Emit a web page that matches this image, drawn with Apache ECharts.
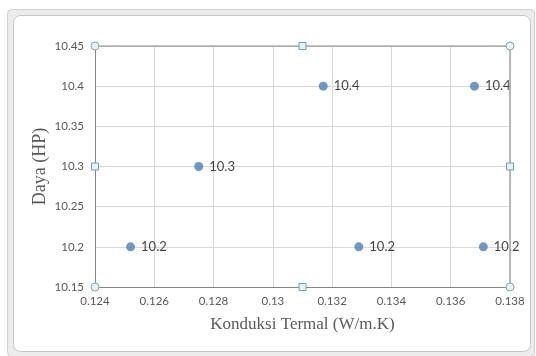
<!DOCTYPE html>
<html><head><meta charset="utf-8">
<script src="https://cdn.jsdelivr.net/npm/echarts@6/dist/echarts.min.js"></script>
<style>html,body{margin:0;padding:0;background:#fff}#c{width:536px;height:356px}</style>
</head><body><div id="c"></div>
<script>
const xValues = [0.1252, 0.1275, 0.1317, 0.1329, 0.1368, 0.1371];
const yValues = [10.2, 10.3, 10.4, 10.2, 10.4, 10.2];
const xTicks = [0.124, 0.126, 0.128, 0.13, 0.132, 0.134, 0.136, 0.138];
const yTicks = [10.15, 10.2, 10.25, 10.3, 10.35, 10.4, 10.45];
const xTitle = 'Konduksi Termal (W/m.K)';
const yTitle = 'Daya (HP)';

const chart = echarts.init(document.getElementById('c'), null, {renderer:'canvas'});
const pts = xValues.map((x,i)=>[x, yValues[i]]);
const tickFont = {color:'#595959', fontFamily:'Lato', fontSize:11.5};
const option = {
  animation:false,
  backgroundColor:'#fff',
  grid:{left:95, right:26, top:46, bottom:69, show:false},
  xAxis:{type:'value', min:xTicks[0], max:xTicks[xTicks.length-1], interval:0.002,
    name:xTitle, nameLocation:'middle', nameGap:29, nameMoveOverlap:false,
    nameTextStyle:{fontFamily:'Liberation Serif', fontSize:17, color:'#595959'},
    axisLine:{show:true, onZero:false, lineStyle:{color:'#868686', width:1}},
    axisTick:{show:false},
    axisLabel:Object.assign({margin:8, formatter:v=>String(+v.toFixed(3))}, tickFont),
    splitLine:{show:true, lineStyle:{color:'#d9d9d9'}}},
  yAxis:{type:'value', min:yTicks[0], max:yTicks[yTicks.length-1], interval:0.05,
    name:yTitle, nameLocation:'middle', nameGap:46, nameMoveOverlap:false,
    nameTextStyle:{fontFamily:'Liberation Serif', fontSize:18, color:'#595959'},
    axisLine:{show:true, onZero:false, lineStyle:{color:'#868686', width:1}},
    axisTick:{show:false},
    axisLabel:Object.assign({margin:11, formatter:v=>String(+v.toFixed(2))}, tickFont),
    splitLine:{show:true, lineStyle:{color:'#d9d9d9'}}},
  series:[{type:'scatter', data:pts, symbol:'circle', symbolSize:9,
    itemStyle:{color:'#4a7ebb'},
    label:{show:true, position:'right', distance:6, formatter:p=>String(p.value[1]),
      color:'#111', fontFamily:'Lato', fontSize:13}}]
};
chart.setOption(option);

// frame and selection handles (decorative)
const tl = chart.convertToPixel({gridIndex:0}, [xTicks[0], yTicks[yTicks.length-1]]);
const br = chart.convertToPixel({gridIndex:0}, [xTicks[xTicks.length-1], yTicks[0]]);
const mx = (tl[0]+br[0])/2, my=(tl[1]+br[1])/2;
const g = [
  {type:'rect', z:-10, silent:true, shape:{x:7.5,y:9.5,width:527,height:347,r:4}, style:{fill:'#ececec', stroke:'#d0d0d0', lineWidth:1}},
  {type:'rect', z:-9, silent:true, shape:{x:13.5,y:15.5,width:517,height:336,r:7}, style:{fill:'#fff', stroke:'#c6c6c6', lineWidth:1}},
  {type:'line', z:5, silent:true, shape:{x1:tl[0],y1:tl[1],x2:br[0],y2:tl[1]}, style:{stroke:'#868686', lineWidth:1}},
  {type:'line', z:5, silent:true, shape:{x1:br[0],y1:tl[1],x2:br[0],y2:br[1]}, style:{stroke:'#a6a6a6', lineWidth:1.5}}
];
[[tl[0],tl[1]],[br[0],tl[1]],[tl[0],br[1]],[br[0],br[1]]].forEach(p=>{
  g.push({type:'circle', z:10, silent:true, shape:{cx:p[0],cy:p[1],r:4}, style:{fill:'#e3f4f7', stroke:'#8ea4ad', lineWidth:1}});
});
[[mx,tl[1]],[mx,br[1]],[tl[0],my],[br[0],my]].forEach(p=>{
  g.push({type:'rect', z:10, silent:true, shape:{x:p[0]-3.5,y:p[1]-3.5,width:7,height:7}, style:{fill:'#e3f4f7', stroke:'#6f9fb5', lineWidth:1}});
});
chart.setOption({graphic:g});
</script></body></html>
